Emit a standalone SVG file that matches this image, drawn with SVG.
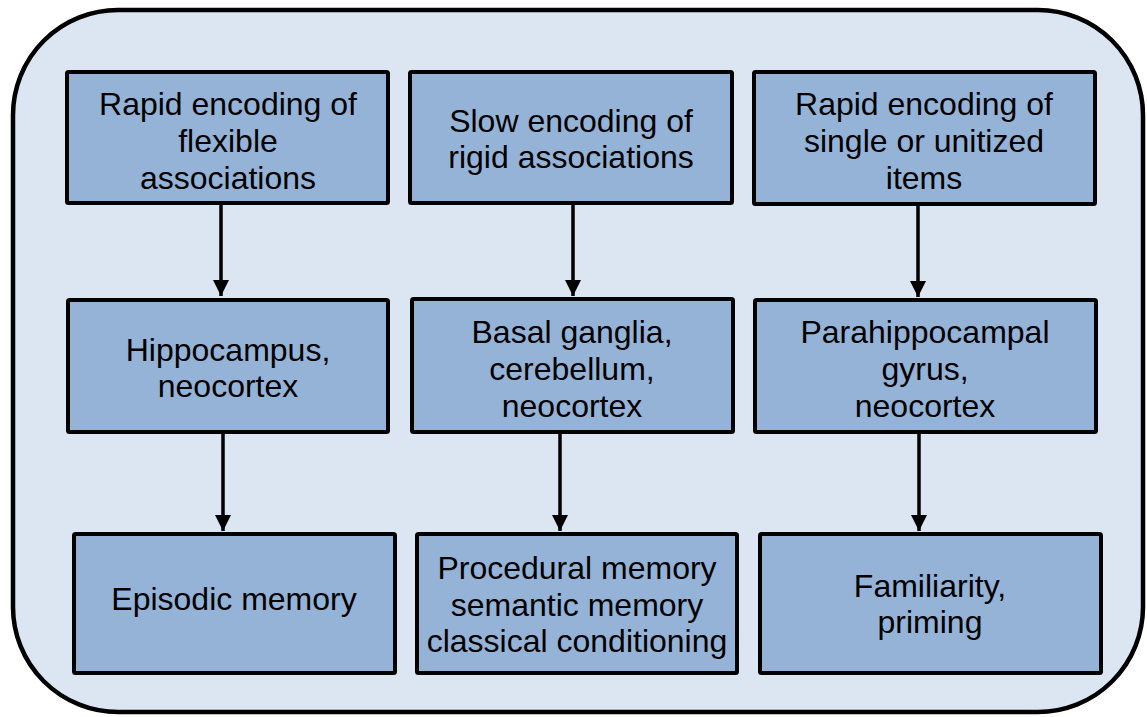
<svg xmlns="http://www.w3.org/2000/svg" width="1147" height="717" viewBox="0 0 1147 717">
  <style>
    .panel { fill: #DCE6F2; stroke: #000; stroke-width: 4.5; }
    .box { fill: #95B3D7; stroke: #000; stroke-width: 4; }
    .label { font-family: "Liberation Sans", Arial, sans-serif; font-size: 32px; fill: #000; text-anchor: middle; }
    .link { stroke: #000; stroke-width: 3.5; fill: none; marker-end: url(#head); }
  </style>
  <defs>
    <marker id="head" viewBox="0 0 16 16" refX="16" refY="8" markerWidth="16" markerHeight="16" markerUnits="userSpaceOnUse" orient="auto">
      <path d="M0,0 L16,8 L0,16 Z" fill="#000"/>
    </marker>
  </defs>

  <!-- background panel -->
  <rect class="panel" x="13" y="10" width="1130" height="702" rx="105" ry="105"/>

  <!-- connectors -->
  <g id="connectors">
    <line class="link" x1="221" y1="204" x2="221" y2="296"/>
    <line class="link" x1="573" y1="204" x2="573" y2="296"/>
    <line class="link" x1="918" y1="205" x2="918" y2="297"/>
    <line class="link" x1="223" y1="433" x2="223" y2="531"/>
    <line class="link" x1="560" y1="433" x2="560" y2="531"/>
    <line class="link" x1="919" y1="433" x2="919" y2="531"/>
  </g>

  <!-- top row -->
  <g id="rapid-flexible">
    <rect class="box" x="67" y="72" width="321" height="131" rx="1.5"/>
    <text class="label" x="228" y="115">Rapid encoding of</text>
    <text class="label" x="228" y="152">flexible</text>
    <text class="label" x="228" y="189">associations</text>
  </g>
  <g id="slow-rigid">
    <rect class="box" x="410" y="72" width="322" height="131" rx="1.5"/>
    <text class="label" x="571" y="132">Slow encoding of</text>
    <text class="label" x="571" y="168">rigid associations</text>
  </g>
  <g id="rapid-items">
    <rect class="box" x="754" y="72" width="341" height="132" rx="1.5"/>
    <text class="label" x="924" y="115">Rapid encoding of</text>
    <text class="label" x="924" y="152">single or unitized</text>
    <text class="label" x="924" y="189">items</text>
  </g>

  <!-- middle row -->
  <g id="hippocampus">
    <rect class="box" x="68" y="300" width="320" height="132" rx="1.5"/>
    <text class="label" x="228" y="361">Hippocampus,</text>
    <text class="label" x="228" y="397">neocortex</text>
  </g>
  <g id="basal-ganglia">
    <rect class="box" x="412" y="299" width="321" height="133" rx="1.5"/>
    <text class="label" x="572" y="343">Basal ganglia,</text>
    <text class="label" x="572" y="380">cerebellum,</text>
    <text class="label" x="572" y="417">neocortex</text>
  </g>
  <g id="parahippocampal">
    <rect class="box" x="755" y="300" width="341" height="132" rx="1.5"/>
    <text class="label" x="925" y="343">Parahippocampal</text>
    <text class="label" x="925" y="380">gyrus,</text>
    <text class="label" x="925" y="417">neocortex</text>
  </g>

  <!-- bottom row -->
  <g id="episodic">
    <rect class="box" x="74" y="534" width="321" height="139" rx="1.5"/>
    <text class="label" x="234" y="610">Episodic memory</text>
  </g>
  <g id="procedural">
    <rect class="box" x="417" y="534" width="320" height="139" rx="1.5"/>
    <text class="label" x="577" y="579">Procedural memory</text>
    <text class="label" x="577" y="616">semantic memory</text>
    <text class="label" x="577" y="652">classical conditioning</text>
  </g>
  <g id="familiarity">
    <rect class="box" x="760" y="534" width="341" height="139" rx="1.5"/>
    <text class="label" x="930" y="597">Familiarity,</text>
    <text class="label" x="930" y="633">priming</text>
  </g>
</svg>
